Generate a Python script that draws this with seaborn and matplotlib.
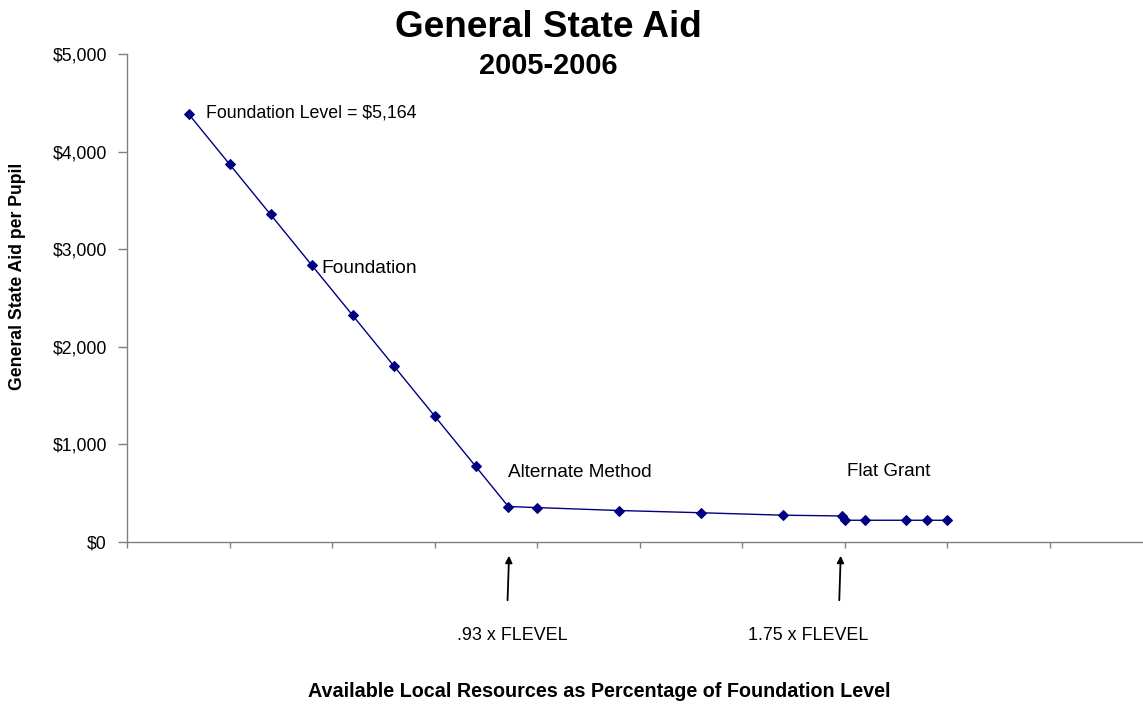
import matplotlib as mpl
mpl.use('Agg')
import matplotlib.pyplot as plt
import seaborn as sns
import pandas as pd

sns.set_style('white')
mpl.rcParams['font.family'] = ['Liberation Sans', 'DejaVu Sans']
mpl.rcParams['text.color'] = 'black'
mpl.rcParams['axes.labelcolor'] = 'black'
mpl.rcParams['ytick.color'] = 'black'
mpl.rcParams['xtick.color'] = 'black'

#%%
# available local resources as fraction of foundation level
resources = [0.15, 0.25, 0.35, 0.45, 0.55, 0.65, 0.75, 0.85, 0.93, 1.00,
             1.20, 1.40, 1.60, 1.745, 1.75, 1.80, 1.90, 1.95, 2.00]
# general state aid per pupil ($)
aid = [4389, 3873, 3357, 2840, 2324, 1807, 1291, 775, 361, 350,
       320, 297, 272, 264, 220, 220, 220, 220, 220]

x_ticks = [0, 0.25, 0.5, 0.75, 1.0, 1.25, 1.5, 1.75, 2.0, 2.25]
y_ticks = [0, 1000, 2000, 3000, 4000, 5000]
y_ticklabels = ['$0', '$1,000', '$2,000', '$3,000', '$4,000', '$5,000']

arrow_x = [0.932, 1.741]
arrow_labels = ['.93 x FLEVEL', '1.75 x FLEVEL']
arrow_label_x = [0.939, 1.662]

df = pd.DataFrame({'resources': resources, 'aid': aid})

#%%
fig = plt.figure(figsize=(11.43, 7.05), dpi=100)
ax = fig.add_axes([127 / 1143, 1 - 541.7 / 705, 1 - 127 / 1143, (541.7 - 54.3) / 705])

navy = '#000080'
sns.lineplot(data=df, x='resources', y='aid', ax=ax, color=navy, lw=1.0,
             marker='D', markersize=5, markeredgecolor=navy, estimator=None, sort=False)

ax.set_xlim(0, (1143 - 127) / 410)
ax.set_ylim(0, 5000)
ax.set_xticks(x_ticks)
ax.set_xticklabels([])
ax.set_yticks(y_ticks)
ax.set_yticklabels(y_ticklabels, fontsize=12.7)
ax.tick_params(axis='y', direction='out', length=6.5, width=1, color='#808080', left=True, pad=8)
ax.tick_params(axis='x', direction='out', length=4.5, width=1, color='#808080', bottom=True)
for s in ['top', 'right']:
    ax.spines[s].set_visible(False)
for s in ['left', 'bottom']:
    ax.spines[s].set_color('#808080')
    ax.spines[s].set_linewidth(1)

ax.set_xlabel('')
ax.set_ylabel('')

# text labels on the curve
ax.text(0.193, 4347, 'Foundation Level = $5,164', fontsize=12.8, va='baseline')
ax.text(0.473, 2756, 'Foundation', fontsize=13.8, va='baseline')
ax.text(0.929, 664, 'Alternate Method', fontsize=13.7, va='baseline')
ax.text(1.756, 674, 'Flat Grant', fontsize=13.5, va='baseline')

# arrows below the axis
for xv, lab, lx in zip(arrow_x, arrow_labels, arrow_label_x):
    ax.annotate('', xy=(xv, -116), xytext=(xv - 0.004, -629), xycoords='data',
                arrowprops=dict(arrowstyle='-|>', color='black', lw=1.3, mutation_scale=10),
                annotation_clip=False)
    ax.text(lx, -1008, lab, fontsize=12.9, ha='center', va='baseline', clip_on=False)

fig.text(548 / 1143, 1 - 37 / 705, 'General State Aid', fontsize=26.6, fontweight='bold',
         ha='center', va='baseline')
fig.text(548 / 1143, 1 - 74 / 705, '2005-2006', fontsize=20.9, fontweight='bold',
         ha='center', va='baseline')
fig.text(599 / 1143, 1 - 697 / 705, 'Available Local Resources as Percentage of Foundation Level',
         fontsize=14.2, fontweight='bold', ha='center', va='baseline')
fig.text(17.5 / 1143, 1 - 276.7 / 705, 'General State Aid per Pupil', fontsize=12.7,
         fontweight='bold', rotation=90, ha='center', va='center')

fig.savefig('out.png', dpi=100, facecolor='white')
